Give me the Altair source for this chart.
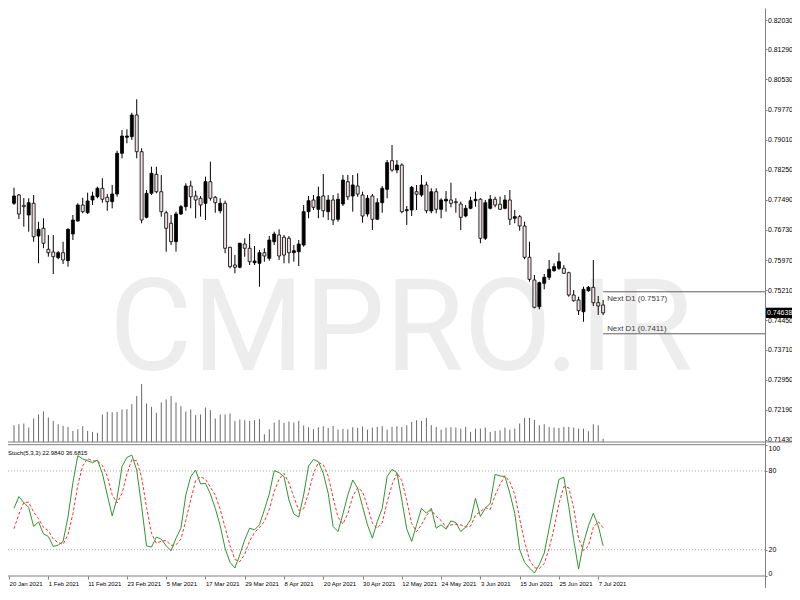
import altair as alt
import pandas as pd

# ---------------- data ----------------
dates = [d.strftime("%d %b %Y") for d in pd.bdate_range("2021-01-21", "2021-07-08")]

opens = [0.77404, 0.77613, 0.77353, 0.77108, 0.77404, 0.76578, 0.76773, 0.76243, 0.76175, 0.76031,
         0.76157, 0.75955, 0.76629, 0.76957, 0.77361, 0.77166, 0.77487, 0.77570, 0.77782, 0.77555,
         0.77444, 0.77638, 0.78666, 0.79070, 0.79085, 0.79632, 0.78706, 0.77050, 0.77656, 0.78136,
         0.77696, 0.77166, 0.76899, 0.76434, 0.77134, 0.77318, 0.77840, 0.77588, 0.77530, 0.77404,
         0.77949, 0.77555, 0.77217, 0.77404, 0.76293, 0.75846, 0.75788, 0.76376, 0.76268, 0.75904,
         0.75889, 0.76157, 0.76015, 0.76434, 0.76604, 0.76546, 0.76520, 0.76157, 0.76182, 0.76351,
         0.77192, 0.77487, 0.77252, 0.77588, 0.77192, 0.77487, 0.77000, 0.77386, 0.77949, 0.77588,
         0.77840, 0.77613, 0.77134, 0.77588, 0.77000, 0.77419, 0.77757, 0.78479, 0.78244, 0.78370,
         0.77217, 0.77235, 0.77696, 0.77613, 0.77866, 0.77209, 0.77696, 0.77252, 0.77462, 0.77487,
         0.77444, 0.77386, 0.77083, 0.77277, 0.77469, 0.77505, 0.76520, 0.77277, 0.77505, 0.77378,
         0.77277, 0.77487, 0.77025, 0.77066, 0.76831, 0.76041, 0.75468, 0.74794, 0.75384, 0.75536,
         0.75703, 0.75763, 0.75763, 0.75652, 0.75089, 0.74963, 0.74668, 0.75198, 0.75283, 0.74895,
         0.74837]
highs = [0.77797, 0.77638, 0.77537, 0.77530, 0.77613, 0.76939, 0.77025, 0.76604, 0.76604, 0.76200,
         0.76434, 0.76773, 0.77108, 0.77404, 0.77545, 0.77671, 0.77696, 0.77823, 0.78035, 0.77638,
         0.77866, 0.78731, 0.79254, 0.79271, 0.79690, 0.80029, 0.78792, 0.77739, 0.78328, 0.78328,
         0.78118, 0.77217, 0.77108, 0.77192, 0.77361, 0.77909, 0.77974, 0.77722, 0.77588, 0.78075,
         0.78454, 0.77588, 0.77530, 0.77469, 0.76308, 0.76099, 0.76409, 0.76520, 0.76629, 0.76326,
         0.76225, 0.76268, 0.76578, 0.76687, 0.76747, 0.76604, 0.76578, 0.76351, 0.76477, 0.77361,
         0.77588, 0.77613, 0.77823, 0.78143, 0.77613, 0.77613, 0.77656, 0.78118, 0.78118, 0.78118,
         0.78161, 0.77696, 0.77613, 0.77638, 0.77530, 0.77840, 0.78497, 0.78875, 0.78497, 0.78413,
         0.77336, 0.77840, 0.77866, 0.78118, 0.77949, 0.77782, 0.77782, 0.77530, 0.77714, 0.77924,
         0.77530, 0.77444, 0.77361, 0.77570, 0.77696, 0.77530, 0.77487, 0.77613, 0.77570, 0.77570,
         0.77613, 0.77739, 0.77235, 0.77108, 0.76939, 0.76434, 0.75594, 0.75425, 0.75619, 0.75973,
         0.75889, 0.76157, 0.75846, 0.75677, 0.75215, 0.75046, 0.75299, 0.75316, 0.75973, 0.75064,
         0.74963]
lows = [0.77361, 0.77007, 0.76813, 0.76687, 0.76434, 0.75889, 0.76268, 0.76056, 0.75619, 0.75990,
        0.75872, 0.75804, 0.76477, 0.76939, 0.77151, 0.77134, 0.77361, 0.77530, 0.77419, 0.77217,
        0.77277, 0.77570, 0.78539, 0.78918, 0.79001, 0.78539, 0.76899, 0.77025, 0.77613, 0.77656,
        0.77066, 0.76182, 0.76351, 0.76182, 0.77108, 0.77217, 0.77277, 0.77025, 0.77066, 0.76982,
        0.77469, 0.77166, 0.77151, 0.76142, 0.75763, 0.75637, 0.75763, 0.76056, 0.75846, 0.75846,
        0.75299, 0.75930, 0.75955, 0.76351, 0.75973, 0.75889, 0.75889, 0.75930, 0.75821, 0.76308,
        0.77025, 0.77235, 0.77025, 0.77050, 0.76982, 0.76856, 0.76939, 0.77336, 0.77487, 0.77192,
        0.77570, 0.76914, 0.77066, 0.76730, 0.76982, 0.77166, 0.77530, 0.78201, 0.78161, 0.77151,
        0.76856, 0.77083, 0.77235, 0.77570, 0.77151, 0.77151, 0.77151, 0.77025, 0.77192, 0.77303,
        0.77166, 0.76730, 0.77050, 0.77252, 0.77318, 0.76394, 0.76477, 0.77252, 0.77303, 0.77235,
        0.77252, 0.76856, 0.76899, 0.76712, 0.75990, 0.75425, 0.74753, 0.74728, 0.75233, 0.75468,
        0.75677, 0.75720, 0.75619, 0.75046, 0.74920, 0.74584, 0.74415, 0.75172, 0.74812, 0.74584,
        0.74584]
closes = [0.77588, 0.77134, 0.77318, 0.77419, 0.76561, 0.76747, 0.76394, 0.76157, 0.76056, 0.76157,
          0.75973, 0.76747, 0.76982, 0.77361, 0.77192, 0.77462, 0.77588, 0.77782, 0.77505, 0.77444,
          0.77638, 0.78666, 0.79102, 0.79102, 0.79632, 0.78706, 0.76982, 0.77656, 0.78161, 0.77696,
          0.77192, 0.76773, 0.76434, 0.77134, 0.77318, 0.77840, 0.77570, 0.77487, 0.77361, 0.77949,
          0.77530, 0.77419, 0.77404, 0.76268, 0.75804, 0.75788, 0.76394, 0.76268, 0.75930, 0.75947,
          0.76157, 0.76074, 0.76477, 0.76629, 0.76074, 0.76099, 0.76157, 0.76207, 0.76376, 0.77192,
          0.77469, 0.77303, 0.77570, 0.77217, 0.77487, 0.76982, 0.77505, 0.77992, 0.77570, 0.77866,
          0.77638, 0.77083, 0.77530, 0.77000, 0.77419, 0.77782, 0.78429, 0.78244, 0.78370, 0.77192,
          0.77242, 0.77808, 0.77631, 0.77866, 0.77217, 0.77696, 0.77252, 0.77487, 0.77505, 0.77404,
          0.77419, 0.77050, 0.77277, 0.77469, 0.77505, 0.76520, 0.77419, 0.77505, 0.77361, 0.77252,
          0.77487, 0.77000, 0.77066, 0.76831, 0.76041, 0.75485, 0.74779, 0.75400, 0.75536, 0.75738,
          0.75804, 0.75930, 0.75637, 0.75089, 0.74945, 0.74693, 0.75233, 0.75283, 0.74895, 0.74812,
          0.74638]
tick_volume = [50000, 53000, 55000, 43000, 70000, 82000, 91000, 73000, 63000, 53000,
               48000, 45000, 33000, 38000, 47000, 33000, 30000, 27000, 82000, 90000,
               89000, 90000, 97000, 98000, 113000, 137000, 173000, 115000, 105000, 87000,
               118000, 127000, 137000, 118000, 107000, 91000, 97000, 80000, 82000, 103000,
               95000, 70000, 82000, 82000, 85000, 63000, 67000, 65000, 63000, 65000,
               69000, 23000, 38000, 58000, 66000, 57000, 61000, 58000, 63000, 49000,
               44000, 38000, 44000, 47000, 42000, 48000, 37000, 39000, 38000, 44000,
               42000, 46000, 37000, 43000, 45000, 47000, 37000, 45000, 47000, 45000,
               50000, 60000, 65000, 63000, 72000, 50000, 45000, 37000, 43000, 44000,
               43000, 40000, 45000, 30000, 40000, 40000, 43000, 30000, 33000, 35000,
               43000, 37000, 40000, 55000, 72000, 72000, 66000, 50000, 53000, 45000,
               43000, 42000, 45000, 45000, 43000, 40000, 40000, 32000, 53000, 50000,
               10000]
stoch_k = [51.6, 60.5, 55.9, 52.1, 37.7, 41.2, 32.1, 30.1, 22.5, 23.5,
           26.3, 45.0, 71.1, 91.6, 89.1, 87.8, 86.3, 88.3, 78.2, 61.7,
           45.8, 59.2, 83.3, 90.3, 92.1, 80.7, 52.9, 23.0, 22.0, 29.6,
           28.1, 23.0, 19.2, 28.8, 36.4, 61.7, 75.7, 80.7, 70.1, 70.6,
           62.5, 51.6, 38.2, 21.2, 10.4, 6.1, 16.2, 27.6, 36.4, 35.2,
           39.0, 50.4, 62.5, 80.2, 78.7, 75.7, 57.9, 47.3, 44.8, 61.7,
           83.8, 88.8, 87.0, 78.2, 63.0, 37.7, 33.9, 47.3, 61.7, 73.1,
           66.8, 52.9, 39.0, 28.8, 41.5, 51.6, 75.7, 81.2, 78.7, 57.9,
           35.7, 26.3, 39.0, 51.6, 47.8, 51.6, 36.4, 39.0, 35.7, 42.0,
           40.7, 33.9, 37.2, 42.8, 59.2, 45.3, 51.6, 55.4, 77.4, 76.2,
           75.7, 63.0, 47.8, 20.0, 10.4, 6.1, 2.3, 8.6, 17.4, 36.4,
           55.4, 73.6, 75.2, 52.9, 27.6, 5.3, 25.0, 38.2, 47.8, 38.2,
           23.0]
stoch_d = [36.0, 47.0, 56.0, 56.2, 48.6, 43.7, 37.0, 34.5, 28.2, 25.4,
           24.1, 31.6, 47.5, 69.2, 83.9, 89.5, 87.7, 87.5, 84.3, 76.1,
           61.9, 55.6, 62.8, 77.6, 88.6, 87.7, 75.2, 52.2, 32.6, 24.9,
           26.6, 26.9, 23.4, 23.7, 28.1, 42.3, 57.9, 72.7, 75.5, 73.8,
           67.7, 61.6, 50.8, 37.0, 23.3, 12.6, 10.9, 16.6, 26.7, 33.1,
           36.9, 41.5, 50.6, 64.4, 73.8, 78.2, 70.8, 60.3, 50.0, 51.3,
           63.4, 78.1, 86.5, 84.7, 76.1, 59.6, 44.9, 39.6, 47.6, 60.7,
           67.2, 64.3, 52.9, 40.2, 36.4, 40.6, 56.3, 69.5, 78.5, 72.6,
           57.4, 40.0, 33.7, 39.0, 46.1, 50.3, 45.3, 42.3, 37.0, 38.9,
           39.5, 38.9, 37.3, 38.0, 46.4, 49.1, 52.0, 50.8, 61.5, 69.7,
           76.4, 71.6, 62.2, 43.6, 26.1, 12.2, 6.3, 5.7, 9.4, 20.8,
           36.4, 55.1, 68.1, 67.2, 51.9, 28.6, 19.3, 22.8, 37.0, 41.4,
           36.7]

price_ticks = [0.8203, 0.8129, 0.8053, 0.7977, 0.7901, 0.7825, 0.7749, 0.7673,
               0.7597, 0.7521, 0.7445, 0.7371, 0.7295, 0.7219, 0.7143]
stoch_ticks = [0, 20, 80, 100]
stoch_levels = [20, 80]
stoch_bounds = [0, 100]
time_tick_index = [-1, 7, 15, 23, 31, 39, 47, 55, 63, 71, 79, 87, 95, 103, 111, 119]
time_tick_labels = ["20 Jan 2021", "1 Feb 2021", "11 Feb 2021", "23 Feb 2021", "5 Mar 2021",
                    "17 Mar 2021", "29 Mar 2021", "8 Apr 2021", "20 Apr 2021", "30 Apr 2021",
                    "12 May 2021", "24 May 2021", "3 Jun 2021", "15 Jun 2021", "25 Jun 2021",
                    "7 Jul 2021"]
next_levels = [0.7517, 0.7411]
next_labels = ["Next D1 (0.7517)", "Next D1 (0.7411)"]
stoch_title = "Stoch(5,3,3) 22.9840 36.6815"
watermark = "CMPRO.IR"

# ---------------- layout constants (view px = page px - 8) ----------------
W, H = 784, 580
STEP = 4.973                      # px per bar
FONT = "Liberation Sans, Arial, sans-serif"
AXIS_X_PX = 757                   # price-axis line, view px
PX_PER_PRICE = 3962.0
p_top = 0.8203 + 12 / PX_PER_PRICE
p_bot = p_top - H / PX_PER_PRICE
s_px = 1.313
s_zero = 568.0
s_bot = -(H - s_zero) / s_px
s_top = s_bot + H / s_px
v_px = 58.0 / 173000
v_bot = -(H - 434) / v_px
v_top = v_bot + H / v_px

n = len(opens)
df = pd.DataFrame({"i": list(range(n)), "date": dates, "open": opens, "high": highs,
                   "low": lows, "close": closes, "vol": tick_volume,
                   "k": stoch_k, "d": stoch_d})

xscale = alt.Scale(domain=[-1.0 / STEP, (W - 1.0) / STEP], nice=False, zero=False)
pscale = alt.Scale(domain=[p_bot, p_top], nice=False, zero=False)
sscale = alt.Scale(domain=[s_bot, s_top], nice=False, zero=False)
vscale = alt.Scale(domain=[v_bot, v_top], nice=False, zero=False)

expr = "''"
for idx, lab in reversed(list(zip(time_tick_index, time_tick_labels))):
    expr = f"datum.value == {idx} ? '{lab}' : ({expr})"

x_axis = alt.Axis(values=time_tick_index, labelExpr=expr, orient="bottom",
                  offset=-(H - s_zero), domain=False, tickSize=3, tickColor="#808080",
                  labelAlign="left", labelPadding=1, labelFont=FONT, labelFontSize=6,
                  labelColor="black", grid=False, title=None, labelOverlap=False,
                  labelFlush=False)
X = alt.X("i:Q", scale=xscale, axis=x_axis, title=None)
XS = alt.X("start:Q", scale=xscale, axis=x_axis, title=None)

axis_p = alt.Axis(orient="right", offset=-(W - AXIS_X_PX), values=price_ticks, format=".5f",
                  labelFont=FONT, labelFontSize=6.9, labelColor="black", tickSize=2,
                  tickColor="#808080", domainColor="#808080", labelPadding=0.5,
                  grid=False, title=None, labelOverlap=False, labelFlush=False)
axis_s = alt.Axis(orient="right", offset=-(W - AXIS_X_PX), values=stoch_ticks, domain=False,
                  labelFont=FONT, labelFontSize=7, labelColor="black", tickSize=2,
                  tickColor="#808080", labelPadding=1, grid=False, title=None,
                  labelOverlap=False, labelFlush=False,
                  labelBaseline={"condition": [{"test": "datum.value >= 100", "value": "top"},
                                               {"test": "datum.value <= 0", "value": "bottom"}],
                                 "value": "middle"})

# watermark
wm = alt.Chart(pd.DataFrame({"t": [watermark]})).mark_text(
    font="Roboto, Liberation Sans, sans-serif", fontSize=128, color="#ededed",
    align="center", baseline="alphabetic"
).encode(x=alt.value(393), y=alt.value(362), text="t:N")

# volume
vol = alt.Chart(df).transform_calculate(base="0").mark_rule(
    color="#6a6a6a", strokeWidth=1).encode(
    x=X, y=alt.Y("base:Q", scale=vscale, axis=None), y2="vol:Q")
vol_sep = alt.Chart(pd.DataFrame({"z": [0]})).mark_rule(color="#808080", strokeWidth=1).encode(
    x=alt.value(0), x2=alt.value(W), y=alt.Y("z:Q", scale=vscale, axis=None))
vol_group = alt.layer(vol, vol_sep)

# price candles
wick = alt.Chart(df).mark_rule(color="black", strokeWidth=1).encode(
    x=X, y=alt.Y("low:Q", scale=pscale, axis=axis_p), y2="high:Q")
body = alt.Chart(df).mark_bar(size=3, stroke="black", strokeWidth=0.8).encode(
    x=X, y=alt.Y("open:Q", scale=pscale, axis=axis_p), y2="close:Q",
    fill=alt.condition("datum.close > datum.open", alt.value("black"), alt.value("#eee0e0")))

df_next = pd.DataFrame({"level": next_levels, "label": next_labels, "start": [n - 1] * 2,
                        "k": [0, 1]})
next_rule = alt.Chart(df_next).mark_rule(color="#606060", strokeWidth=1).encode(
    x=XS, x2=alt.value(AXIS_X_PX), y=alt.Y("level:Q", scale=pscale, axis=axis_p))
next_t1 = alt.Chart(df_next).transform_filter("datum.k == 0").mark_text(
    align="left", baseline="middle", dx=4, dy=7, font=FONT, fontSize=7.9, color="#404040"
).encode(x=XS, y=alt.Y("level:Q", scale=pscale, axis=axis_p), text="label:N")
next_t2 = alt.Chart(df_next).transform_filter("datum.k == 1").mark_text(
    align="left", baseline="middle", dx=4, dy=-5, font=FONT, fontSize=7.9, color="#404040"
).encode(x=XS, y=alt.Y("level:Q", scale=pscale, axis=axis_p), text="label:N")

df_cur = pd.DataFrame({"price": [closes[-1]], "label": [f"{closes[-1]:.5f}"]})
cur_box = alt.Chart(df_cur).transform_calculate(
    top="datum.price + 0.0013", bot="datum.price - 0.0013").mark_rect(color="black").encode(
    x=alt.value(AXIS_X_PX + 1), x2=alt.value(W),
    y=alt.Y("top:Q", scale=pscale, axis=axis_p), y2="bot:Q")
cur_txt = alt.Chart(df_cur).mark_text(color="white", align="left", baseline="middle",
                                      font=FONT, fontSize=7).encode(
    x=alt.value(AXIS_X_PX + 2), y=alt.Y("price:Q", scale=pscale, axis=axis_p), text="label:N")

price_group = alt.layer(wick, body, next_rule, next_t1, next_t2, cur_box, cur_txt)

# stochastic
df_lv = pd.DataFrame({"level": stoch_levels})
df_bd = pd.DataFrame({"level": stoch_bounds})
lv = alt.Chart(df_lv).mark_rule(color="#a8a8a8", strokeWidth=1, strokeDash=[1, 2]).encode(
    x=alt.value(0), x2=alt.value(AXIS_X_PX), y=alt.Y("level:Q", scale=sscale, axis=axis_s))
bd = alt.Chart(df_bd).mark_rule(color="#808080", strokeWidth=1).encode(
    x=alt.value(0), x2=alt.value(AXIS_X_PX), y=alt.Y("level:Q", scale=sscale, axis=axis_s))
kline = alt.Chart(df).mark_line(color="#2f962f", strokeWidth=1).encode(
    x=X, y=alt.Y("k:Q", scale=sscale, axis=axis_s))
dline = alt.Chart(df).mark_line(color="#ff3030", strokeWidth=1, strokeDash=[3, 2]).encode(
    x=X, y=alt.Y("d:Q", scale=sscale, axis=axis_s))
st_title = alt.Chart(pd.DataFrame({"t": [stoch_title]})).mark_text(
    align="left", baseline="middle", font=FONT, fontSize=6, color="black").encode(
    x=alt.value(0), y=alt.value(445), text="t:N")
stoch_group = alt.layer(lv, bd, dline, kline, st_title)

chart = alt.layer(wm, vol_group, price_group, stoch_group).resolve_scale(
    y="independent").properties(
    width=W, height=H, background="white",
    padding={"left": 0, "top": 0, "right": 0, "bottom": 0},
    autosize=alt.AutoSizeParams(type="none")
).configure_view(fill="white", stroke="white", strokeWidth=0)

chart.save("out.html", embed_options={"renderer": "svg", "actions": False})
